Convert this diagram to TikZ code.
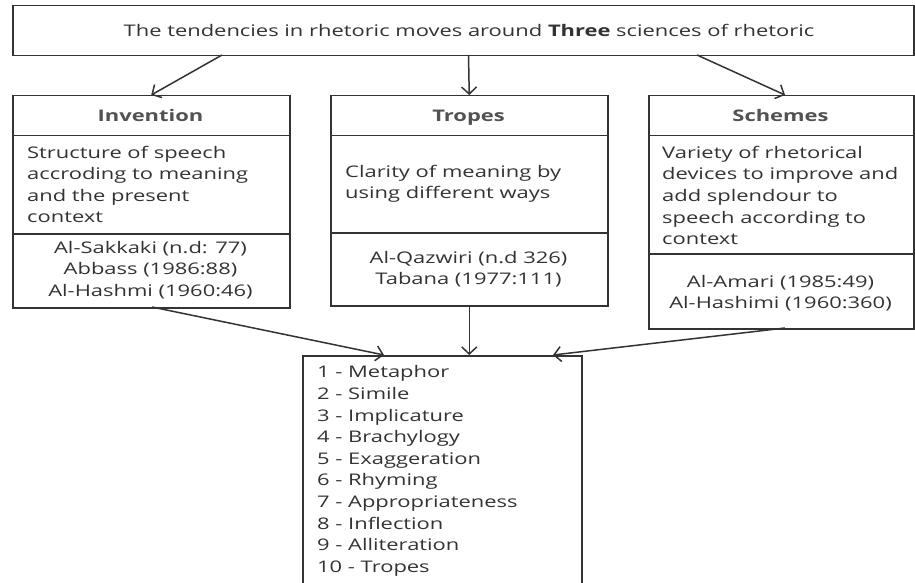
\documentclass[tikz,border=0pt]{standalone}
\usepackage{fontspec}
\setmainfont[FakeStretch=1.37]{Open Sans}
\usetikzlibrary{arrows.meta}
\definecolor{lc}{HTML}{333333}
\definecolor{tc}{HTML}{333333}
\tikzset{
  box/.style={draw=lc, line width=1.5pt, rectangle, inner sep=0pt, anchor=north west},
  txt/.style={font=\fontsize{16}{21.6}\selectfont, text=tc, inner sep=0pt},
  ltxt/.style={txt, align=left, anchor=west},
  ctxt/.style={txt, align=center},
  htxt/.style={txt, font=\fontsize{16}{21.6}\selectfont\bfseries, text=tc!85!white, anchor=base},
  arr/.style={draw=lc, line width=1.5pt, -{Straight Barb[length=7pt,width=15pt]}}
}
\begin{document}
\begin{tikzpicture}[x=1pt,y=-1pt]
\useasboundingbox[fill=white] (0,0) rectangle (915,583);
% top
\node[box, minimum width=901pt, minimum height=50pt] (top) at (12,5) {};
\node[ctxt] (toptxt) at (469,30) {The tendencies in rhetoric moves around \textbf{Three} sciences of rhetoric};
% invention
\node[box, minimum width=277pt, minimum height=40pt] (invh) at (12,95) {};
\node[box, minimum width=277pt, minimum height=98pt] (invd) at (12,135) {};
\node[box, minimum width=277pt, minimum height=74pt] (invr) at (12,233) {};
\node[htxt] (invt) at (150.5,121.5) {Invention};
\node[ltxt] (invdt) at (27,184.5) {Structure of speech\\accroding to meaning\\and the present\\context};
\node[ctxt] (invrt) at (150.5,270) {Al-Sakkaki (n.d: 77)\\Abbass (1986:88)\\Al-Hashmi (1960:46)};
% tropes
\node[box, minimum width=277pt, minimum height=40pt] (troh) at (330,95) {};
\node[box, minimum width=277pt, minimum height=97pt] (trod) at (330,135) {};
\node[box, minimum width=277pt, minimum height=73pt] (tror) at (330,232) {};
\node[htxt] (trot) at (468.5,121.5) {Tropes};
\node[ltxt] (trodt) at (345,184) {Clarity of meaning by\\using different ways};
\node[ctxt] (trort) at (468.5,269) {Al-Qazwiri (n.d 326)\\Tabana (1977:111)};
% schemes
\node[box, minimum width=265pt, minimum height=40pt] (schh) at (648,95) {};
\node[box, minimum width=265pt, minimum height=118pt] (schd) at (648,135) {};
\node[box, minimum width=265pt, minimum height=75pt] (schr) at (648,253) {};
\node[htxt] (scht) at (780.5,121.5) {Schemes};
\node[ltxt] (schdt) at (662,195.5) {Variety of rhetorical\\devices to improve and\\add splendour to\\speech according to\\context};
\node[ctxt] (schrt) at (780.5,293) {Al-Amari (1985:49)\\Al-Hashimi (1960:360)};
% list
\node[box, minimum width=279pt, minimum height=250pt] (list) at (302,355) {};
\node[ltxt] (listt) at (317,471) {1 - Metaphor\\2 - Simile\\3 - Implicature\\4 - Brachylogy\\5 - Exaggeration\\6 - Rhyming\\7 - Appropriateness\\8 - Inflection\\9 - Alliteration\\10 - Tropes};
% arrows
\coordinate (s1) at (222,55);
\coordinate (s2) at (468.5,55);
\coordinate (s3) at (697,55);
\coordinate (e3) at (785,95);
\draw[arr] (s1) -- (invh.north);
\draw[arr] (s2) -- (troh.north);
\draw[arr] (s3) -- (e3);
\coordinate (b1) at (152,307);
\coordinate (b3) at (785,328);
\coordinate (l1) at (384,355);
\coordinate (l3) at (553,355);
\draw[arr] (b1) -- (l1);
\draw[arr] (tror.south) -- (tror.south |- list.north);
\draw[arr] (b3) -- (l3);
\end{tikzpicture}
\end{document}
